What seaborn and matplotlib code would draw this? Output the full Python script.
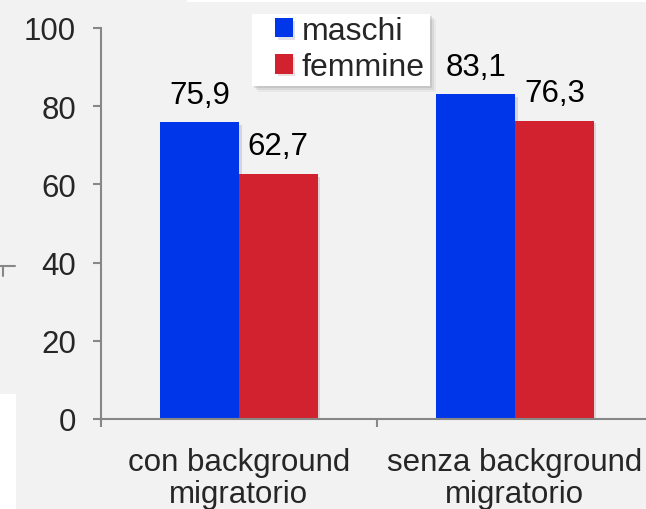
import matplotlib
matplotlib.use("Agg")
import matplotlib.pyplot as plt
import matplotlib.patheffects as pe
from matplotlib.lines import Line2D
from matplotlib.patches import Rectangle
import seaborn as sns
import pandas as pd

categories = ["con background\nmigratorio", "senza background\nmigratorio"]
series = ["maschi", "femmine"]
maschi = [75.9, 83.1]
femmine = [62.7, 76.3]
y_ticks = [0, 20, 40, 60, 80, 100]

colors = ["#0036EA", "#D3222F"]
bg = "#F2F2F2"
axis_col = "#878787"

sns.set_theme(style="white")
plt.rcParams["font.family"] = ["Liberation Sans", "DejaVu Sans"]

df = pd.DataFrame({
    "cat": categories * 2,
    "sex": [series[0]] * 2 + [series[1]] * 2,
    "val": maschi + femmine,
})

fig = plt.figure(figsize=(6.46, 5.10), dpi=100, facecolor=bg)
ax = fig.add_axes([101 / 646, 1 - 420 / 510, 552 / 646, 391 / 510])
ax.set_facecolor(bg)

sns.barplot(data=df, x="cat", y="val", hue="sex", palette=colors,
            width=0.57, saturation=1, ax=ax, legend=True, errorbar=None)

for p in ax.patches:
    p.set_path_effects([pe.SimplePatchShadow(offset=(2, -2), alpha=0.12), pe.Normal()])
    p.set_edgecolor("none")

for cont in ax.containers:
    ax.bar_label(cont, labels=[f"{v:.1f}".replace(".", ",") for v in cont.datavalues],
                 padding=9, fontsize=22.5, color="black")

ax.set_ylim(0, 100)
ax.set_xlim(-0.5, 1.5)
ax.set_yticks(y_ticks)
ax.set_yticklabels([str(t) for t in y_ticks], fontsize=22.5)
ax.set_xticks([-0.5, 0.5, 1.5])
ax.set_xticklabels([])
ax.set_xticks([0, 1], minor=True)
ax.set_xticklabels(categories, minor=True, fontsize=22.5, linespacing=1.08)
ax.tick_params(axis="x", which="major", length=6, width=1.5, color=axis_col, direction="out", bottom=True)
ax.tick_params(axis="x", which="minor", length=0, pad=20)
ax.tick_params(axis="y", length=6, width=1.5, color=axis_col, direction="out", left=True, pad=12)
ax.set_xlabel("")
ax.set_ylabel("")
for s in ["top", "right"]:
    ax.spines[s].set_visible(False)
for s in ["left", "bottom"]:
    ax.spines[s].set_color(axis_col)
    ax.spines[s].set_linewidth(1.5)

# legend box (white, soft shadow)
W, H = 646, 510
def fbox(x0, y0, x1, y1):
    return (x0 / W, 1 - y1 / H), (x1 - x0) / W, (y1 - y0) / H
for k, a in [(6, 0.06), (4, 0.10), (2, 0.14)]:
    xy, w, h = fbox(252 + k, 15 + k, 430 + k, 87 + k)
    ax.add_patch(Rectangle(xy, w, h, transform=fig.transFigure, facecolor="#555555",
                           alpha=a, edgecolor="none", zorder=4, clip_on=False))
xy, w, h = fbox(252, 15, 430, 87)
ax.add_patch(Rectangle(xy, w, h, transform=fig.transFigure, facecolor="white",
                       edgecolor="none", zorder=4.5, clip_on=False))

leg = ax.legend(loc="upper left", bbox_to_anchor=(275 / W, 1 - 17 / H),
                bbox_transform=fig.transFigure, fontsize=23, frameon=False,
                handlelength=0.55, handleheight=0.55,
                handletextpad=0.28, labelspacing=0.2, borderpad=0, borderaxespad=0)
leg.set_zorder(6)

# slide-crop artefacts
fig.patches.append(Rectangle((187 / W, 1 - 3 / H), 459 / W, 3 / H,
                             transform=fig.transFigure, facecolor="white", edgecolor="none"))
fig.patches.append(Rectangle((0, 0), 16 / W, 115 / H,
                             transform=fig.transFigure, facecolor="white", edgecolor="none"))
fig.lines.append(Line2D([0, 15 / W], [1 - 267 / H] * 2, transform=fig.transFigure,
                        color=axis_col, lw=1.5))
fig.lines.append(Line2D([3 / W] * 2, [1 - 267 / H, 1 - 277 / H], transform=fig.transFigure,
                        color=axis_col, lw=1.5))

fig.savefig("out.png", dpi=100, facecolor=bg)
